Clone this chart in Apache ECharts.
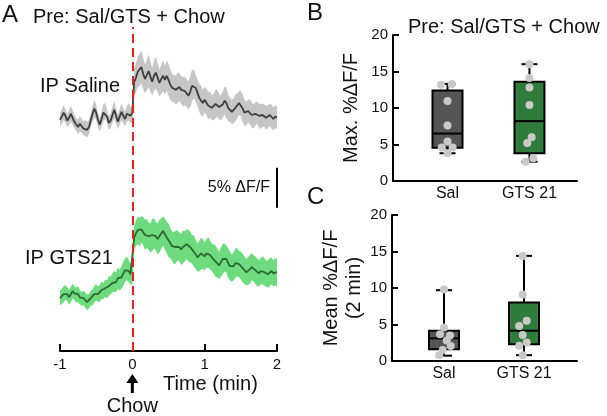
<!DOCTYPE html>
<html><head><meta charset="utf-8">
<script src="https://cdn.jsdelivr.net/npm/echarts@6/dist/echarts.min.js"></script>
<style>html,body{margin:0;padding:0;background:#fff}#c{width:607px;height:416px}</style>
</head><body><div id="c"></div>
<script>
// ---------- Panel A: traces (%ΔF/F, relative to pre-chow baseline) ----------
const N_SAMPLES = 121;            // -1 .. 2 min, 0.025 min step
const TIME = Array.from({length: N_SAMPLES}, (_, i) => +(-1 + i * 0.025).toFixed(3));
const SALINE_MEAN = [
  0, 0.4, 0.9, 0.5, -0.1, 0.25, 0.75, 0.25, -0.25, -0.6,
  -0.9, -0.5, -0.75, -1.1, -1.0, -1.25, -0.9, -0.1, 0.75, 1.4,
  0.9, 0, -0.6, 0.1, 0.9, 1.1, 0.4, -0.4, -0.1, 0.6,
  1.25, 0.5, -0.25, 0.4, 1.0, 0.5, 0.1, 0.75, 1.0, 0.5,
  0.9,
  4.75, 5.25, 6.0, 6.25, 6.6, 5.75, 5.1, 5.6, 6.1, 5.4,
  4.75, 5.5, 5.9, 5.25, 4.6, 5.1, 5.5, 5.0, 5.5, 5.0,
  4.4, 4.0, 3.9, 3.75, 4.0, 4.1, 3.75, 3.5, 3.6, 3.4,
  3.0, 3.5, 4.25, 4.5, 4.0, 3.4, 2.75, 2.4, 2.1, 2.5,
  2.25, 1.75, 1.9, 1.5, 1.6, 2.0, 2.1, 1.6, 1.5, 1.9,
  2.4, 2.1, 1.5, 1.25, 1.0, 1.1, 1.5, 1.75, 2.1, 2.0,
  1.4, 0.9, 0.75, 1.1, 1.0, 0.6, 0.4, 0.75, 0.9, 0.5,
  0.4, 0.6, 0.5, 0.25, 0.4, 0.6, 0.4, 0.1, 0.4, 0.25
];
const SALINE_SEM = [
  0.85, 0.9, 0.95, 0.85, 0.8, 0.9, 1.0, 0.9, 0.85, 0.8,
  0.9, 0.95, 0.85, 0.9, 1.0, 0.95, 0.9, 0.85, 1.0, 1.1,
  0.95, 0.9, 0.85, 0.95, 1.05, 1.0, 0.9, 0.85, 0.95, 1.0,
  1.1, 0.95, 0.9, 1.0, 1.05, 0.95, 0.9, 1.0, 1.1, 1.0,
  1.05,
  1.7, 1.8, 1.9, 2.0, 2.1, 1.9, 1.8, 1.95, 2.05, 1.85,
  1.75, 1.9, 2.0, 1.8, 1.7, 1.85, 1.95, 1.8, 1.9, 2.0,
  1.85, 1.75, 1.7, 1.8, 1.9, 1.75, 1.7, 1.85, 1.8, 1.7,
  1.75, 1.9, 2.0, 1.8, 1.7, 1.65, 1.75, 1.85, 1.7, 1.6,
  1.65, 1.75, 1.6, 1.55, 1.65, 1.8, 1.7, 1.6, 1.55, 1.65,
  1.75, 1.9, 1.7, 1.55, 1.5, 1.6, 1.7, 1.55, 1.5, 1.6,
  1.75, 1.65, 1.5, 1.45, 1.55, 1.6, 1.5, 1.45, 1.4, 1.5,
  1.55, 1.45, 1.4, 1.5, 1.45, 1.4, 1.5, 1.45, 1.4, 1.45
];
const GTS_MEAN = [
  0, 0.25, 0.5, 0.75, 0.5, 0.1, 0.5, 0.9, 0.6, 0.4,
  0.5, 0.1, -0.1, 0, -0.25, -0.5, -0.4, 0, 0.1, 0.5,
  0.75, 0.5, 0.6, 1.0, 0.9, 1.25, 1.1, 1.5, 1.6, 1.9,
  2.1, 2.0, 2.5, 2.25, 2.6, 3.1, 3.5, 3.75, 3.4, 3.0,
  3.25,
  7.6, 8.1, 8.5, 8.25, 8.6, 8.4, 7.9, 8.1, 7.75, 7.5,
  7.9, 8.1, 7.75, 7.4, 7.75, 8.1, 8.4, 8.0, 7.6, 7.25,
  6.9, 6.5, 6.25, 6.4, 6.6, 6.4, 6.1, 6.4, 6.5, 6.75,
  6.6, 6.4, 6.1, 5.9, 5.5, 5.1, 5.25, 5.6, 5.5, 5.25,
  5.6, 5.75, 5.4, 5.1, 4.9, 4.6, 4.4, 4.1, 4.5, 4.9,
  5.1, 4.9, 4.4, 4.0, 3.75, 4.0, 4.4, 4.5, 4.25, 4.1,
  3.75, 3.5, 3.25, 3.4, 3.6, 3.9, 3.75, 3.5, 3.25, 3.1,
  3.4, 3.5, 3.25, 3.1, 3.0, 3.25, 3.4, 3.1, 3.25, 3.25
];
const GTS_SEM = [
  0.9, 0.95, 1.0, 0.9, 0.85, 0.95, 1.0, 0.9, 0.85, 0.95,
  1.0, 0.9, 0.85, 0.9, 0.95, 1.0, 0.9, 0.95, 1.0, 1.05,
  1.0, 0.95, 1.05, 1.1, 1.0, 1.1, 1.15, 1.2, 1.1, 1.2,
  1.3, 1.25, 1.35, 1.3, 1.4, 1.5, 1.45, 1.5, 1.4, 1.35,
  1.45,
  1.5, 1.6, 1.7, 1.8, 1.65, 1.75, 1.9, 1.8, 1.7, 1.85,
  2.0, 1.9, 1.8, 1.95, 2.05, 1.9, 1.8, 1.95, 2.0, 2.1,
  1.95, 1.85, 2.0, 2.1, 1.9, 1.8, 1.95, 2.05, 1.9, 1.85,
  2.0, 1.9, 1.8, 1.95, 1.85, 1.75, 1.9, 2.0, 1.85, 1.75,
  1.8, 1.9, 1.8, 1.7, 1.85, 1.95, 1.8, 1.7, 1.8, 1.9,
  1.75, 1.7, 1.85, 1.8, 1.7, 1.75, 1.85, 1.75, 1.65, 1.75,
  1.8, 1.7, 1.65, 1.75, 1.8, 1.7, 1.65, 1.7, 1.75, 1.65,
  1.7, 1.75, 1.7, 1.65, 1.7, 1.75, 1.7, 1.65, 1.7, 1.75
];
const SALINE_OFFSET = 28.9;   // vertical stacking of the two traces (display only)
const GTS_OFFSET = 6.6;
const SCALE_BAR = [17.9, 22.9]; // 5 % ΔF/F
const TIME_TICKS = [-1, 0, 1, 2];

// ---------- Panels B & C: box plots ----------
const GROUPS = ['Sal', 'GTS 21'];
// [min, q1, median, q3, max]
const MAX_BOX_SAL = [3.8, 4.56, 6.5, 12.4, 13.3];
const MAX_BOX_GTS = [2.65, 3.8, 8.2, 13.6, 16.0];
const MAX_PTS_SAL = [13.2, 13.3, 10.95, 7.6, 5.4, 4.6, 4.6, 3.8];
const MAX_PTS_GTS = [16.0, 14.1, 12.8, 10.4, 6.0, 5.2, 3.1, 2.65];
const MAX_JIT_SAL = [-0.079, 0.051, 0, 0, 0, -0.07, 0.063, 0];
const MAX_JIT_GTS = [0, 0, 0, 0, 0.027, -0.027, 0.046, -0.046];

const MEAN_BOX_SAL = [0.73, 1.6, 3.1, 4.15, 9.7];
const MEAN_BOX_GTS = [0.8, 2.3, 4.15, 8.0, 14.4];
const MEAN_PTS_SAL = [9.8, 4.6, 3.65, 3.5, 2.8, 2.05, 1.5, 0.8];
const MEAN_PTS_GTS = [14.4, 9.1, 5.5, 4.8, 3.55, 2.55, 2.1, 0.8];
const MEAN_JIT_SAL = [0, 0, -0.05, 0.075, 0.034, 0.084, -0.016, -0.06];
const MEAN_JIT_GTS = [-0.016, -0.016, 0.034, -0.06, -0.016, 0.034, -0.06, -0.016];

const FONT = 'Liberation Sans, Arial, sans-serif';
const BLACK = '#111';
const C_SAL_LINE = '#3d3d3d', C_SAL_BAND = '#c6c6c6';
const C_GTS_LINE = '#2b6b33', C_GTS_BAND = '#6edb7f';
const C_BOX_SAL = '#555555', C_BOX_GTS = '#2f7b3c', C_PT = '#c9c9c9';

const chart = echarts.init(document.getElementById('c'), null, {renderer: 'canvas'});

// shaded mean ± SEM band drawn as one polygon through the axis scales
function bandSeries(mean, sem, off, color) {
  const data = TIME.map((t, i) => [t, off + mean[i] - sem[i], off + mean[i] + sem[i]]);
  return {
    type: 'custom', xAxisIndex: 0, yAxisIndex: 0, data: data, encode: {x: 0, y: [1, 2]},
    silent: true, z: 1, clip: false,
    renderItem: function (params, api) {
      if (params.dataIndex !== 0) return null;
      const up = data.map(d => api.coord([d[0], d[2]]));
      const lo = data.map(d => api.coord([d[0], d[1]])).reverse();
      return {type: 'polygon', shape: {points: up.concat(lo)}, style: {fill: color, stroke: null}};
    }
  };
}
function meanSeries(mean, off, color, extra) {
  return Object.assign({
    type: 'line', xAxisIndex: 0, yAxisIndex: 0, data: TIME.map((t, i) => [t, off + mean[i]]),
    symbol: 'none', lineStyle: {color: color, width: 1.8}, silent: true, z: 3
  }, extra || {});
}

function boxRender(fill) {
  return function (params, api) {
    const x = api.value(0);
    const p = k => api.coord([x, api.value(k)]);
    const [cx, yMin] = p(1);
    const yQ1 = p(2)[1], yMed = p(3)[1], yQ3 = p(4)[1], yMax = p(5)[1];
    const hw = 15, cap = 8;
    const st = {stroke: '#000', lineWidth: 2};
    return {type: 'group', children: [
      {type: 'line', shape: {x1: cx, y1: yMax, x2: cx, y2: yQ3}, style: st},
      {type: 'line', shape: {x1: cx, y1: yQ1, x2: cx, y2: yMin}, style: st},
      {type: 'line', shape: {x1: cx - cap, y1: yMax, x2: cx + cap, y2: yMax}, style: st},
      {type: 'line', shape: {x1: cx - cap, y1: yMin, x2: cx + cap, y2: yMin}, style: st},
      {type: 'rect', shape: {x: cx - hw, y: yQ3, width: 2 * hw, height: yQ1 - yQ3},
       style: {fill: fill, stroke: '#000', lineWidth: 2}},
      {type: 'line', shape: {x1: cx - hw, y1: yMed, x2: cx + hw, y2: yMed}, style: st}
    ]};
  };
}
function boxSeries(axisIdx, idx, box, fill) {
  return {type: 'custom', xAxisIndex: axisIdx, yAxisIndex: axisIdx,
    data: [[idx].concat(box)], encode: {x: 0, y: [1, 2, 3, 4, 5]},
    renderItem: boxRender(fill), silent: true, z: 2, clip: false};
}
function ptSeries(axisIdx, idx, vals, jit) {
  return {type: 'scatter', xAxisIndex: axisIdx, yAxisIndex: axisIdx,
    data: vals.map((v, i) => [idx + jit[i], v]), symbolSize: 8,
    itemStyle: {color: C_PT, opacity: 1}, silent: true, z: 4, clip: false};
}

const axisLineBlack = {show: true, onZero: false, lineStyle: {color: '#000', width: 2}};
function catXAxis(grid, min, max) {
  return {type: 'value', gridIndex: grid, min: min, max: max, splitLine: {show: false},
    axisLine: axisLineBlack, axisTick: {show: false},
    axisLabel: {customValues: [0, 1], formatter: v => GROUPS[Math.round(v)] || '',
      fontFamily: FONT, fontSize: 16, color: BLACK, margin: 5, showMinLabel: true, showMaxLabel: true}};
}
function boxYAxis(grid, name, gap, lh) {
  return {type: 'value', gridIndex: grid, min: 0, max: 20, interval: 5, splitLine: {show: false},
    axisLine: axisLineBlack, axisTick: {show: true, inside: true, length: 6, lineStyle: {color: '#000', width: 2}},
    axisLabel: {fontFamily: FONT, fontSize: 15, color: BLACK, margin: 5},
    name: name, nameLocation: 'middle', nameGap: gap,
    nameTextStyle: {fontFamily: FONT, fontSize: 20, color: BLACK, lineHeight: lh}};
}

const option = {
  animation: false,
  backgroundColor: '#fff',
  grid: [
    {left: 60, right: 330, top: 27, bottom: 65},
    {left: 393, right: 30, top: 35, bottom: 235},
    {left: 392, right: 30, top: 215, bottom: 55}
  ],
  xAxis: [
    {type: 'value', gridIndex: 0, min: TIME_TICKS[0], max: TIME_TICKS[TIME_TICKS.length - 1], interval: 1,
     splitLine: {show: false}, axisLine: axisLineBlack,
     axisTick: {show: true, inside: true, length: 7, lineStyle: {color: '#000', width: 2}},
     axisLabel: {fontFamily: FONT, fontSize: 15, color: BLACK, margin: 6}},
    catXAxis(1, -0.665, 1.58),
    catXAxis(2, -0.65, 1.6625)
  ],
  yAxis: [
    {type: 'value', gridIndex: 0, min: 0, max: 40.5, show: false, splitLine: {show: false}},
    boxYAxis(1, 'Max. %ΔF/F', 30, 23),
    boxYAxis(2, 'Mean %ΔF/F\n(2 min)', 24, 23)
  ],
  series: [
    bandSeries(SALINE_MEAN, SALINE_SEM, SALINE_OFFSET, C_SAL_BAND),
    bandSeries(GTS_MEAN, GTS_SEM, GTS_OFFSET, C_GTS_BAND),
    meanSeries(SALINE_MEAN, SALINE_OFFSET, C_SAL_LINE),
    meanSeries(GTS_MEAN, GTS_OFFSET, C_GTS_LINE, {
      markLine: {silent: true, symbol: 'none', label: {show: false}, animation: false,
        lineStyle: {color: '#e8231e', type: [9, 5], width: 2}, data: [{xAxis: 0}], z: 10}
    }),
    {type: 'line', xAxisIndex: 0, yAxisIndex: 0, data: [[TIME_TICKS[3], SCALE_BAR[0]], [TIME_TICKS[3], SCALE_BAR[1]]],
     symbol: 'none', lineStyle: {color: '#000', width: 2}, clip: false, silent: true, z: 5},
    boxSeries(1, 0, MAX_BOX_SAL, C_BOX_SAL),
    boxSeries(1, 1, MAX_BOX_GTS, C_BOX_GTS),
    ptSeries(1, 0, MAX_PTS_SAL, MAX_JIT_SAL),
    ptSeries(1, 1, MAX_PTS_GTS, MAX_JIT_GTS),
    boxSeries(2, 0, MEAN_BOX_SAL, C_BOX_SAL),
    boxSeries(2, 1, MEAN_BOX_GTS, C_BOX_GTS),
    ptSeries(2, 0, MEAN_PTS_SAL, MEAN_JIT_SAL),
    ptSeries(2, 1, MEAN_PTS_GTS, MEAN_JIT_GTS)
  ]
};
chart.setOption(option);

function txt(text, x, y, size, align) {
  return {type: 'text', silent: true, z: 20, style: {text: text, x: x, y: y, fill: BLACK,
    font: size + 'px ' + FONT, align: align || 'left', verticalAlign: 'middle',
    textAlign: align || 'left', textVerticalAlign: 'middle'}};
}
const x0 = chart.convertToPixel({xAxisIndex: 0}, 0);
chart.setOption({graphic: [
  txt('A', 2, 15, 24),
  txt('Pre: Sal/GTS + Chow', 33, 17, 20),
  txt('IP Saline', 40, 86, 20),
  txt('IP GTS21', 25, 258, 20),
  txt('5% ΔF/F', 270, 188, 16, 'right'),
  txt('Time (min)', 163, 384, 20),
  txt('Chow', x0, 406, 20, 'center'),
  {type: 'polygon', silent: true, shape: {points: [[x0 - 6, 383], [x0 + 6, 383], [x0, 374]]}, style: {fill: '#000'}},
  {type: 'rect', silent: true, shape: {x: x0 - 1.5, y: 382, width: 3, height: 11}, style: {fill: '#000'}},
  txt('B', 307, 13, 24),
  txt('Pre: Sal/GTS + Chow', 408, 27, 20),
  txt('C', 307, 197, 24)
]});
</script></body></html>
